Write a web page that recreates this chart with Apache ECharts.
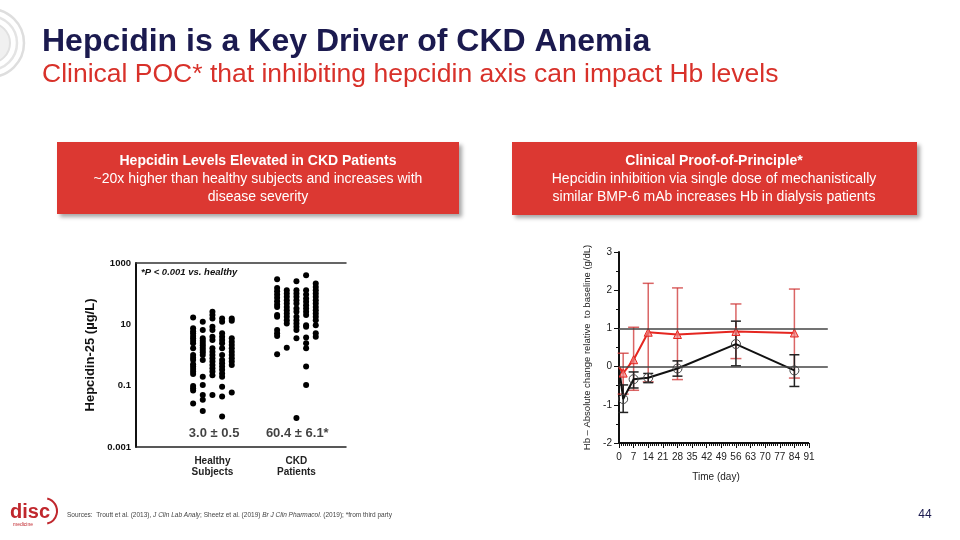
<!DOCTYPE html>
<html>
<head>
<meta charset="utf-8">
<title>Hepcidin is a Key Driver of CKD Anemia</title>
<script src="https://cdn.jsdelivr.net/npm/echarts@6/dist/echarts.min.js"></script>
<style>
html, body { margin: 0; padding: 0; background: #fff; }
#main { width: 960px; height: 540px; }
</style>
</head>
<body>
<div id="main"></div>
<script>
// ---- left panel: Hepcidin-25 (ug/L), one array per dot column ----
const groupNames = ['Healthy\nSubjects', 'CKD\nPatients']
const groupSummary = ['3.0 ± 0.5', '60.4 ± 6.1*']
const healthyCols = [
    [16.8, 7.4, 6.0, 5.1, 4.2, 3.5, 2.9, 2.4, 1.65, 1.0, 0.82, 0.69, 0.5, 0.42, 0.35, 0.29, 0.24, 0.098, 0.083, 0.069, 0.026],
    [12.1, 6.5, 3.5, 2.9, 2.45, 2.07, 1.73, 1.46, 1.22, 1.0, 0.69, 0.197, 0.106, 0.05, 0.035, 0.015],
    [25.6, 20, 15.6, 8.3, 6.5, 3.9, 3.1, 1.65, 1.28, 1.0, 0.78, 0.61, 0.47, 0.37, 0.29, 0.22, 0.05],
    [15.6, 12.1, 5.1, 3.9, 3.1, 2.4, 1.65, 1.0, 0.69, 0.54, 0.42, 0.33, 0.25, 0.197, 0.093, 0.044, 0.0099],
    [15.6, 13.0, 3.5, 2.7, 2.1, 1.65, 1.28, 1.0, 0.78, 0.61, 0.47, 0.06]
]
const ckdCols = [
    [295, 154, 120, 94, 73, 57, 44, 37, 20, 17.6, 6.5, 5.1, 4.2, 1.05],
    [130, 101, 79, 61, 48, 37, 29, 22.7, 17.6, 13.7, 10.7, 1.73],
    [254, 130, 101, 79, 61, 48, 33, 25.6, 17.6, 13.7, 10.7, 8.3, 6.5, 3.5, 0.0088],
    [398, 130, 94, 70, 54, 42, 33, 25.6, 20, 9.4, 8.3, 3.7, 2.4, 1.65, 0.42, 0.106],
    [214, 166, 130, 101, 79, 61, 48, 37, 29, 22.7, 17.6, 13.7, 9.4, 5.1, 3.9]
]

// ---- right panel: Hb change from baseline (g/dL) ----
const hbDays = [0, 2, 7, 14, 28, 56, 84]
const redMean = [0, -0.17, 0.18, 0.9, 0.84, 0.92, 0.88]
const redHigh = [null, 0.35, 1.03, 2.18, 2.06, 1.64, 2.03]
const redLow = [null, -0.72, -0.62, -0.4, -0.34, 0.21, -0.3]
const blackMean = [0, -0.85, -0.33, -0.29, -0.05, 0.59, -0.1]
const blackHigh = [null, -0.48, -0.14, -0.18, 0.15, 1.19, 0.31]
const blackLow = [null, -1.2, -0.56, -0.42, -0.25, 0.02, -0.52]
const dayTicks = [0, 7, 14, 21, 28, 35, 42, 49, 56, 63, 70, 77, 84, 91]

const FONT = 'Liberation Sans, Arial, sans-serif'
const RED = '#dc3832'
const NAVY = '#1b1a4f'

const groupX = [0.91, 1.91]
const colStep = 0.115

function buildDots(cols, center) {
    const out = []
    cols.forEach((col, i) => {
        col.forEach(v => out.push([center + (i - 2) * colStep, v]))
    })
    return out
}

function errorBars(low, high, color, cap) {
    return {
        type: 'custom',
        xAxisIndex: 2,
        yAxisIndex: 1,
        z: 2,
        silent: true,
        data: hbDays.map((d, i) => [d, low[i], high[i]]).filter(r => r[1] !== null),
        renderItem(params, api) {
            const lo = api.coord([api.value(0), api.value(1)])
            const hi = api.coord([api.value(0), api.value(2)])
            const st = { stroke: color, lineWidth: 1.5 }
            return {
                type: 'group',
                children: [
                    { type: 'line', shape: { x1: lo[0], y1: lo[1], x2: hi[0], y2: hi[1] }, style: st },
                    { type: 'line', shape: { x1: lo[0] - cap, y1: lo[1], x2: lo[0] + cap, y2: lo[1] }, style: st },
                    { type: 'line', shape: { x1: hi[0] - cap, y1: hi[1], x2: hi[0] + cap, y2: hi[1] }, style: st }
                ]
            }
        }
    }
}

function lineData(mean) {
    return hbDays.map((d, i) => i === 0 ? { value: [d, mean[i]], symbol: 'none' } : [d, mean[i]])
}

function txt(text, x, y, font, fill, align) {
    return {
        type: 'text',
        silent: true,
        style: { text, x, y, font, fill, textAlign: align || 'left', textVerticalAlign: 'middle' }
    }
}

const chart = echarts.init(document.getElementById('main'))

const option = {
    animation: false,
    textStyle: { fontFamily: FONT },
    grid: [
        { left: 136, top: 263, width: 210, height: 184 },
        { left: 619, top: 252, width: 208.8, height: 191 }
    ],
    xAxis: [
        {
            gridIndex: 0, type: 'value', min: 0, max: 2.5,
            axisLine: { onZero: false, lineStyle: { color: '#222', width: 1.5 } },
            axisTick: { show: false },
            splitLine: { show: false },
            axisLabel: {
                customValues: groupX,
                formatter: v => v < 1.4 ? groupNames[0] : groupNames[1],
                fontWeight: 'bold', fontSize: 10, color: '#222', lineHeight: 11, margin: 9
            }
        },
        {
            gridIndex: 0, type: 'value', min: 0, max: 2.5, position: 'top',
            axisLine: { onZero: false, lineStyle: { color: '#333', width: 1.5 } },
            axisTick: { show: false }, axisLabel: { show: false }, splitLine: { show: false }
        },
        {
            gridIndex: 1, type: 'value', min: 0, max: 100, position: 'bottom',
            axisLine: { show: false, onZero: false },
            axisTick: { customValues: dayTicks, length: 5, lineStyle: { color: '#111' } },
            axisLabel: { customValues: dayTicks, fontSize: 10, color: '#222', margin: 9 },
            splitLine: { show: false }
        },
        {
            gridIndex: 1, type: 'value', min: 0, max: 100, position: 'bottom',
            axisLine: { show: false, onZero: false },
            axisTick: { customValues: Array.from({ length: 92 }, (_, i) => i), length: 3, lineStyle: { color: '#111' } },
            axisLabel: { show: false },
            splitLine: { show: false }
        }
    ],
    yAxis: [
        {
            gridIndex: 0, type: 'log', logBase: 10, min: 0.001, max: 1000,
            axisLine: { show: true, onZero: false, lineStyle: { color: '#111', width: 2 } },
            axisTick: { show: false },
            splitLine: { show: false },
            axisLabel: {
                fontWeight: 'bold', fontSize: 9.5, color: '#111', margin: 5,
                formatter: v => {
                    const e = Math.round(Math.log10(v))
                    if (e % 2 === 0) return ''
                    return e >= 0 ? String(Math.pow(10, e)) : Math.pow(10, e).toFixed(-e)
                }
            },
            name: 'Hepcidin-25 (µg/L)', nameLocation: 'middle', nameGap: 39,
            nameTextStyle: { fontWeight: 'bold', fontSize: 13, color: '#111' }
        },
        {
            gridIndex: 1, type: 'value', min: -2, max: 3, interval: 1,
            axisLine: { show: true, onZero: false, lineStyle: { color: '#111', width: 2 } },
            axisTick: { show: true, length: 5, lineStyle: { color: '#111' } },
            minorTick: { show: true, splitNumber: 2, length: 3, lineStyle: { color: '#111' } },
            splitLine: { show: false },
            axisLabel: { fontSize: 10, color: '#222', margin: 7 },
            name: 'Hb – Absolute change relative  to baseline (g/dL)', nameLocation: 'middle', nameGap: 27,
            nameTextStyle: { fontSize: 9.5, color: '#222' }
        }
    ],
    series: [
        {
            type: 'scatter', xAxisIndex: 0, yAxisIndex: 0, symbolSize: 6,
            itemStyle: { color: '#000', opacity: 1 }, data: buildDots(healthyCols, groupX[0])
        },
        {
            type: 'scatter', xAxisIndex: 0, yAxisIndex: 0, symbolSize: 6,
            itemStyle: { color: '#000', opacity: 1 }, data: buildDots(ckdCols, groupX[1])
        },
        {
            type: 'scatter', xAxisIndex: 0, yAxisIndex: 0, symbolSize: 1,
            itemStyle: { color: 'rgba(0,0,0,0)' }, silent: true,
            label: {
                show: true, position: 'inside', formatter: p => p.name,
                fontWeight: 'bold', fontSize: 13, color: '#111'
            },
            data: groupSummary.map((s, i) => ({ name: s, value: [groupX[i] + (i ? 0.01 : 0.02), 0.0028] }))
        },
        errorBars(redLow, redHigh, 'rgba(205,50,50,0.75)', 5.5),
        errorBars(blackLow, blackHigh, '#222', 5),
        {
            type: 'line', xAxisIndex: 2, yAxisIndex: 1, z: 4,
            symbol: 'triangle', symbolSize: 8,
            lineStyle: { color: '#e52620', width: 2 },
            itemStyle: { color: 'rgba(240,130,130,0.7)', borderColor: '#e52620', borderWidth: 1 },
            data: lineData(redMean)
        },
        {
            type: 'line', xAxisIndex: 2, yAxisIndex: 1, z: 3,
            symbol: 'circle', symbolSize: 9,
            lineStyle: { color: '#111', width: 2 },
            itemStyle: { color: 'rgba(255,255,255,0)', borderColor: '#444', borderWidth: 1 },
            data: lineData(blackMean),
            markLine: {
                silent: true, symbol: ['none', 'none'], label: { show: false },
                lineStyle: { color: '#444', width: 1.5, type: 'solid' },
                data: [
                    { yAxis: 0 },
                    { yAxis: 1 },
                    [{ coord: [0, -2], lineStyle: { color: '#111', width: 2, type: 'solid' } }, { coord: [91, -2] }]
                ]
            }
        }
    ],
    graphic: [
        // faint ring mark at top-left
        { type: 'circle', silent: true, shape: { cx: -10, cy: 43, r: 34 }, style: { fill: 'none', stroke: '#dedede', lineWidth: 2.5 } },
        { type: 'circle', silent: true, shape: { cx: -10, cy: 43, r: 27 }, style: { fill: 'none', stroke: '#e4e4e4', lineWidth: 2.5 } },
        { type: 'circle', silent: true, shape: { cx: -10, cy: 43, r: 20 }, style: { fill: '#f0f0f0', stroke: '#e0e0e0', lineWidth: 2 } },
        txt('Hepcidin is a Key Driver of CKD Anemia', 42, 42, 'bold 32px ' + FONT, NAVY),
        txt('Clinical POC* that inhibiting hepcidin axis can impact Hb levels', 42, 75, '26.5px ' + FONT, '#d8312a'),

        {
            type: 'rect', silent: true, shape: { x: 57, y: 142, width: 402, height: 72 },
            style: { fill: RED, shadowBlur: 4, shadowOffsetX: 3, shadowOffsetY: 3, shadowColor: 'rgba(0,0,0,0.35)' }
        },
        txt('Hepcidin Levels Elevated in CKD Patients', 258, 161, 'bold 14px ' + FONT, '#fff', 'center'),
        txt('~20x higher than healthy subjects and increases with', 258, 179, '14px ' + FONT, '#fff', 'center'),
        txt('disease severity', 258, 197, '14px ' + FONT, '#fff', 'center'),

        {
            type: 'rect', silent: true, shape: { x: 512, y: 142, width: 405, height: 73 },
            style: { fill: RED, shadowBlur: 4, shadowOffsetX: 3, shadowOffsetY: 3, shadowColor: 'rgba(0,0,0,0.35)' }
        },
        txt('Clinical Proof-of-Principle*', 714, 161, 'bold 14px ' + FONT, '#fff', 'center'),
        txt('Hepcidin inhibition via single dose of mechanistically', 714, 179, '14px ' + FONT, '#fff', 'center'),
        txt('similar BMP-6 mAb increases Hb in dialysis patients', 714, 197, '14px ' + FONT, '#fff', 'center'),

        txt('*P < 0.001 vs. healthy', 141, 272, 'italic bold 9.5px ' + FONT, '#111'),
        txt('Time (day)', 716, 477, '10px ' + FONT, '#222', 'center'),

        // footer
        txt('disc', 10, 512, 'bold 20px ' + FONT, '#c0272d'),
        txt('medicine', 13, 525, '5px ' + FONT, '#c0272d'),
        {
            type: 'arc', silent: true,
            shape: { cx: 44, cy: 511, r: 13, startAngle: -Math.PI * 0.42, endAngle: Math.PI * 0.42 },
            style: { stroke: '#c0272d', lineWidth: 2, fill: 'none' }
        },
        {
            type: 'text', silent: true,
            style: {
                x: 67, y: 515, textVerticalAlign: 'middle',
                text: 'Sources:  Troutt et al. (2013), {i|J Clin Lab Analy}; Sheetz et al. (2019) {i|Br J Clin Pharmacol.} (2019); *from third party',
                font: '6.5px ' + FONT, fill: '#444',
                rich: { i: { fontStyle: 'italic', fontSize: 6.5, fontFamily: FONT, fill: '#444' } }
            }
        },
        txt('44', 925, 515, '12px ' + FONT, NAVY, 'center')
    ]
}

chart.setOption(option)
</script>
</body>
</html>
